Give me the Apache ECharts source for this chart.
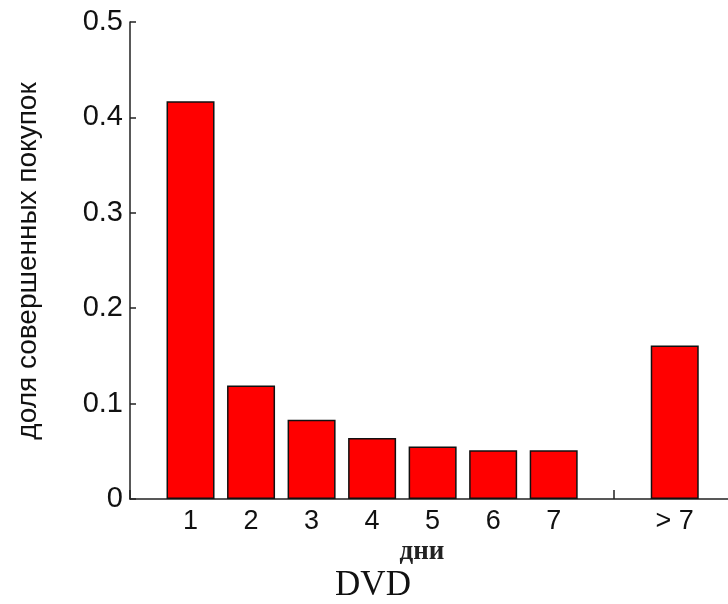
<!DOCTYPE html>
<html>
<head>
<meta charset="utf-8">
<script src="https://cdn.jsdelivr.net/npm/echarts@6/dist/echarts.min.js"></script>
<style>
html,body{margin:0;padding:0;background:#fff;}
#chart{width:728px;height:604px;}
</style>
</head>
<body>
<div id="chart"></div>
<script>
// Data
var categories = ['1', '2', '3', '4', '5', '6', '7', '', '> 7'];
var shares = [0.417, 0.119, 0.083, 0.064, 0.055, 0.051, 0.051, null, 0.161];
var yTicks = [0, 0.1, 0.2, 0.3, 0.4, 0.5];
var yTitle = 'доля совершенных покупок';
var xTitle = 'дни';
var caption = 'DVD';

// bars placed at positions 1..N (MATLAB-like x limits 0..N+1, right part cut by the figure edge)
var barData = [];
categories.forEach(function (c, i) {
  if (shares[i] != null) barData.push([i + 1, shares[i]]);
});

var chart = echarts.init(document.getElementById('chart'), null, {renderer: 'canvas'});
chart.setOption({
  animation: false,
  backgroundColor: '#ffffff',
  grid: {left: 130, top: 22, right: 0, height: 477, containLabel: false},
  xAxis: {
    type: 'value',
    min: 0,
    max: 9.88,
    interval: 1,
    axisLine: {show: true, onZero: false, lineStyle: {color: '#222', width: 1.5}},
    axisTick: {show: true, inside: true, length: 9, lineStyle: {color: '#222', width: 1.5}},
    axisLabel: {
      show: true, margin: 9, fontSize: 27, color: '#111', fontFamily: 'Liberation Sans, Arial, sans-serif',
      showMaxLabel: false,
      formatter: function (v) {
        var k = Math.round(v);
        if (Math.abs(v - k) > 1e-6 || k < 1 || k > categories.length) return '';
        return categories[k - 1];
      }
    },
    splitLine: {show: false}
  },
  yAxis: {
    type: 'value',
    min: yTicks[0],
    max: yTicks[yTicks.length - 1],
    interval: 0.1,
    axisLine: {show: true, lineStyle: {color: '#222', width: 1.5}},
    axisTick: {show: true, inside: true, length: 6, lineStyle: {color: '#222', width: 1.5}},
    axisLabel: {show: true, margin: 7, fontSize: 29, color: '#111', fontFamily: 'Liberation Sans, Arial, sans-serif'},
    splitLine: {show: false}
  },
  series: [{
    type: 'bar',
    data: barData,
    barWidth: 48,
    itemStyle: {color: '#ff0000', borderColor: '#111', borderWidth: 1.5},
    z: 3
  }],
  graphic: [
    {type: 'text', x: 28, y: 261, rotation: Math.PI / 2,
     style: {text: yTitle, fontSize: 28, fill: '#111', fontFamily: 'Liberation Sans, Arial, sans-serif', textAlign: 'center', textVerticalAlign: 'middle'}},
    {type: 'text', x: 422, y: 552,
     style: {text: xTitle, fontSize: 27, fontWeight: 'bold', fill: '#222', fontFamily: 'Liberation Serif, Times New Roman, serif', textAlign: 'center', textVerticalAlign: 'middle'}},
    {type: 'text', x: 373, y: 586,
     style: {text: caption, fontSize: 35, fill: '#111', fontFamily: 'Liberation Serif, Times New Roman, serif', textAlign: 'center', textVerticalAlign: 'middle'}}
  ]
});
</script>
</body>
</html>
